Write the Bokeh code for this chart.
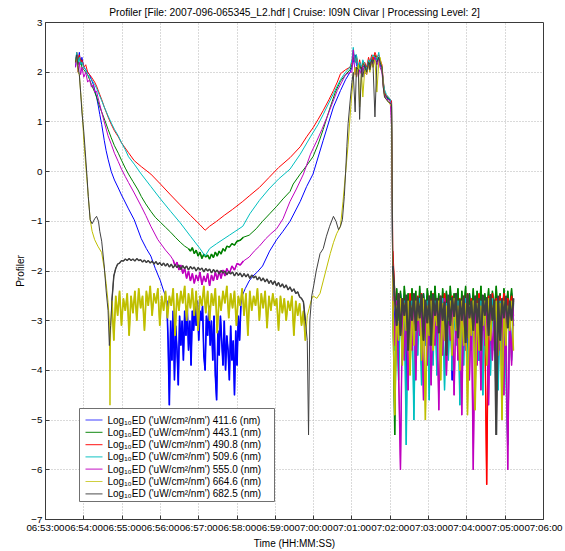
from bokeh.plotting import figure
from bokeh.models import Range1d, FixedTicker, BoxAnnotation, Label
from bokeh.embed import file_html
from bokeh.resources import INLINE

FONT = "Liberation Sans"

title_text = "Profiler [File: 2007-096-065345_L2.hdf | Cruise: I09N Clivar | Processing Level: 2]"
x_ticks = [0, 60, 120, 180, 240, 300, 360, 420, 480, 540, 600, 660, 720, 780]   # seconds after 06:53:00
x_tick_labels = ["06:53:00", "06:54:00", "06:55:00", "06:56:00", "06:57:00", "06:58:00", "06:59:00",
                 "07:00:00", "07:01:00", "07:02:00", "07:03:00", "07:04:00", "07:05:00", "07:06:00"]
y_ticks = [-7, -6, -5, -4, -3, -2, -1, 0, 1, 2, 3]

labels = ["Log\u2081\u2080ED ('uW/cm\u00b2/nm') 411.6 (nm)",
          "Log\u2081\u2080ED ('uW/cm\u00b2/nm') 443.1 (nm)",
          "Log\u2081\u2080ED ('uW/cm\u00b2/nm') 490.8 (nm)",
          "Log\u2081\u2080ED ('uW/cm\u00b2/nm') 509.6 (nm)",
          "Log\u2081\u2080ED ('uW/cm\u00b2/nm') 555.0 (nm)",
          "Log\u2081\u2080ED ('uW/cm\u00b2/nm') 664.6 (nm)",
          "Log\u2081\u2080ED ('uW/cm\u00b2/nm') 682.5 (nm)"]
colors = ["#0000ff", "#008000", "#ff0000", "#00bfbf", "#bf00bf", "#bfbf00", "#404040"]

# ---- shared sample times (s after 06:53:00) ----
t_band = [104, 107, 110, 113, 116, 119, 122, 125, 128, 131,
          134, 137, 140, 143, 146, 149, 152, 155, 158, 161,
          164, 167, 170, 173, 176, 179, 182, 185, 188, 191,
          194, 197, 200, 203, 206, 209, 212, 215, 218, 221,
          224, 227, 230, 233, 236, 239, 242, 245, 248, 251,
          254, 257, 260, 263, 266, 269, 272, 275, 278, 281,
          284, 287, 290, 293, 296, 299, 302, 305, 308, 311,
          314, 317, 320, 323, 326, 329, 332, 335, 338, 341,
          344, 347, 350, 353, 356, 359, 362, 365, 368, 371,
          374, 377, 380, 383, 386, 389, 392, 395, 398, 401,
          404, 407]
t_top = [480, 482, 485, 487, 490, 492, 495, 497, 500, 503, 506, 508, 511, 513, 516,
         519, 522, 524, 527, 529, 531, 534, 537, 540, 542]
t_tail = [544, 547, 550, 553, 556, 559, 562, 565, 568, 571,
          574, 577, 580, 583, 586, 589, 592, 595, 598, 601,
          604, 607, 610, 613, 616, 619, 622, 625, 628, 631,
          634, 637, 640, 643, 646, 649, 652, 655, 658, 661,
          664, 667, 670, 673, 676, 679, 682, 685, 688, 691,
          694, 697, 700, 703, 706, 709, 712, 715, 718, 721,
          724, 727, 730, 733]

# ---- 411.6 nm (blue) ----
t_blue_a = [47, 49, 51, 53, 55, 57, 60, 63, 66, 69, 72, 75, 78, 80, 83, 85, 88, 92, 95, 98,
            103, 108, 114, 119, 123, 130, 139, 150, 158, 165, 172, 180, 185, 188]
v_blue_a = [2.1, 2.35, 2.2, 2.4, 2.15, 2.3, 2.1, 2.05, 2.0, 1.95, 1.85, 1.75, 1.6, 1.5, 1.3, 1.15, 0.95, 0.63, 0.42, 0.25,
            0.0, -0.17, -0.33, -0.47, -0.57, -0.75, -0.97, -1.35, -1.55, -1.7, -1.95, -2.2, -2.4, -2.5]
t_blue_b = [190, 192, 194, 196, 198, 200, 202, 204, 206, 208,
            210, 212, 214, 216, 218, 220, 222, 224, 226, 228,
            230, 232, 234, 236, 238, 240, 242, 244, 246, 248,
            250, 252, 254, 256, 258, 260, 262, 264, 266, 268,
            270, 272, 274, 276, 278, 280, 282, 284, 286, 288,
            290, 292, 294, 296, 298, 300, 302, 304, 306]
v_blue_b = [-2.6, -3.4, -4.7, -3.0, -3.8, -2.8, -4.2, -3.1, -3.6, -4.3,
            -2.9, -3.5, -3.0, -3.8, -2.8, -3.3, -2.7, -3.6, -3.0, -3.9,
            -2.8, -3.2, -2.7, -3.1, -2.6, -3.4, -2.8, -3.0, -2.7, -3.7,
            -4.0, -2.9, -3.3, -2.7, -3.5, -3.0, -3.8, -2.9, -4.1, -4.6,
            -3.2, -3.7, -2.9, -3.4, -3.9, -3.0, -4.0, -3.3, -3.6, -4.2,
            -3.1, -3.8, -3.4, -4.5, -3.2, -3.9, -2.9, -3.4, -2.7]
t_blue_c = [308, 313, 319, 325, 331, 340, 351, 362, 372, 383, 399, 409, 419, 435, 451, 462, 470, 477]
v_blue_c = [-2.5, -2.35, -2.2, -2.1, -2.03, -1.9, -1.6, -1.37, -1.2, -1.0, -0.6, -0.3, -0.05, 0.63, 1.3, 1.63, 1.85, 2.0]
v_blue_top = [2.1, 2.2, 2.35, 2.15, 2.05, 2.2, 2.0, 2.1, 2.15, 2.05, 2.2, 2.1, 2.25, 2.15, 2.3,
              2.2, 2.3, 2.15, 2.05, 1.8, 1.55, 1.5, 1.45, 1.45, 1.4]
v_blue_tail = [-2.4, -3.1, -2.5, -3.6, -2.45, -3.0, -2.55, -4.4, -2.5, -3.2,
               -2.45, -2.9, -2.55, -3.4, -2.5, -3.9, -2.45, -3.0, -2.5, -3.5,
               -2.55, -2.9, -2.45, -3.7, -2.5, -3.1, -2.55, -3.3, -2.45, -2.85,
               -2.5, -4.2, -2.55, -3.0, -2.45, -3.4, -2.5, -2.9, -2.55, -3.6,
               -2.45, -3.1, -2.5, -2.85, -2.55, -3.8, -2.45, -3.2, -2.5, -3.0,
               -2.55, -3.5, -2.45, -3.0, -2.5, -4.0, -2.55, -2.9, -2.45, -3.3,
               -2.5, -2.85, -2.45, -3.1]

# ---- 443.1 nm (green) ----
t_green_a = [47, 49, 51, 53, 55, 57, 60, 63, 66, 69, 72, 77, 80, 85, 88, 93, 98, 103, 108, 114,
             119, 125, 130, 137, 145, 150, 157, 165, 172, 180, 188, 196, 204, 211, 218]
v_green_a = [2.2, 2.35, 2.15, 2.3, 2.25, 2.1, 2.05, 2.0, 1.95, 1.85, 1.75, 1.6, 1.5, 1.3, 1.2, 1.03, 0.85, 0.68, 0.52, 0.37,
             0.23, 0.07, -0.05, -0.2, -0.37, -0.5, -0.65, -0.8, -0.92, -1.02, -1.12, -1.22, -1.33, -1.42, -1.5]
t_green_b = [224, 227, 230, 233, 236, 239, 242, 245, 248, 251, 254, 257, 260, 263, 266, 269, 272, 275, 278, 281,
             284, 288, 292, 296, 300, 305, 310]
v_green_b = [-1.55, -1.6, -1.53, -1.65, -1.58, -1.7, -1.62, -1.75, -1.66, -1.72, -1.68, -1.76, -1.66, -1.73, -1.62,
             -1.7, -1.6, -1.66, -1.55, -1.6, -1.5, -1.52, -1.45, -1.48, -1.4, -1.38, -1.32]
t_green_c = [319, 330, 340, 351, 362, 372, 383, 388, 399, 409, 419, 427, 435, 446, 454, 462, 470, 477]
v_green_c = [-1.28, -1.15, -1.0, -0.85, -0.7, -0.55, -0.4, -0.25, -0.05, 0.12, 0.3, 0.55, 0.85, 1.3, 1.6, 1.82, 1.95, 2.05]
v_green_top = [2.15, 2.3, 2.2, 2.35, 2.0, 2.15, 2.05, 2.2, 2.1, 2.0, 2.25, 2.15, 2.3, 2.2, 2.35,
               2.25, 2.3, 2.2, 2.1, 1.75, 1.6, 1.5, 1.48, 1.42, 1.4]
v_green_tail = [-2.5, -5.3, -2.35, -3.0, -2.4, -3.2, -2.3, -2.85, -2.45, -3.1,
                -2.35, -2.8, -2.4, -3.3, -2.3, -2.9, -2.45, -3.15, -2.35, -2.75,
                -2.4, -3.0, -2.3, -2.85, -2.45, -3.25, -2.35, -2.8, -2.4, -3.05,
                -2.3, -2.9, -2.45, -2.75, -2.35, -3.2, -2.4, -2.85, -2.3, -3.35,
                -2.45, -2.9, -2.35, -3.1, -2.4, -2.8, -2.3, -3.0, -2.45, -2.85,
                -2.35, -3.2, -2.4, -2.8, -2.3, -2.95, -2.45, -3.15, -2.35, -2.9,
                -2.4, -2.8, -2.35, -3.0]

# ---- 490.8 nm (red) ----
t_red_a = [47, 49, 51, 53, 55, 57, 60, 63, 66, 69, 72, 77, 80, 85, 88, 92, 98, 103, 108, 114,
           119, 130, 139, 150, 165, 180, 196, 211, 227, 242, 250, 257, 268, 280, 293, 309, 320, 335, 350, 365,
           383, 399, 409, 419, 427, 435, 444, 451, 457, 462, 470, 477]
v_red_a = [2.2, 2.4, 2.25, 2.35, 2.2, 2.25, 2.1, 2.15, 2.0, 1.95, 1.9, 1.8, 1.72, 1.55, 1.45, 1.3, 1.1, 0.95, 0.82, 0.7,
           0.58, 0.38, 0.22, 0.1, -0.05, -0.25, -0.47, -0.67, -0.88, -1.07, -1.18, -1.1, -1.0, -0.88, -0.76, -0.6, -0.48, -0.32, -0.12, 0.08,
           0.28, 0.5, 0.7, 0.88, 1.05, 1.23, 1.45, 1.63, 1.8, 1.97, 2.05, 2.1]
v_red_top = [2.2, 2.4, 2.25, 2.3, 2.1, 2.25, 2.05, 2.15, 2.2, 2.1, 2.3, 2.2, 2.35, 2.25, 2.4,
             2.3, 2.35, 2.25, 2.15, 1.85, 1.6, 1.52, 1.5, 1.45, 1.42]
v_red_tail = [-1.6, -2.5, -3.0, -2.45, -3.1, -2.55, -2.85, -2.5, -3.2, -2.45,
              -2.95, -2.55, -2.8, -2.5, -3.05, -2.45, -2.9, -2.6, -3.15, -2.5,
              -2.85, -2.45, -3.0, -2.55, -2.8, -2.5, -3.1, -2.45, -2.9, -2.55,
              -3.25, -2.5, -2.85, -2.45, -3.0, -2.55, -2.8, -2.5, -3.05, -2.45,
              -2.9, -2.55, -3.1, -2.5, -2.85, -2.45, -3.0, -2.55, -2.8, -6.3,
              -2.5, -2.95, -2.45, -3.1, -2.55, -2.85, -2.5, -3.0, -2.45, -3.05,
              -2.55, -2.8, -2.5, -2.9]

# ---- 509.6 nm (cyan) ----
t_cyan_a = [47, 49, 51, 53, 55, 57, 60, 63, 66, 69, 72, 77, 80, 85, 88, 92, 98, 103, 108, 114,
            119, 125, 130, 139, 150, 165, 180, 196, 211, 227, 242, 250, 257, 268, 288, 309, 320, 335, 350, 365,
            383, 399, 415, 427, 435, 451, 462, 470, 477]
v_cyan_a = [2.25, 2.4, 2.2, 2.3, 2.15, 2.2, 2.1, 2.05, 1.95, 1.9, 1.85, 1.75, 1.68, 1.52, 1.43, 1.3, 1.12, 0.98, 0.85, 0.72,
            0.58, 0.44, 0.3, 0.15, -0.05, -0.3, -0.55, -0.8, -1.03, -1.3, -1.55, -1.7, -1.55, -1.45, -1.28, -1.1, -0.85, -0.58, -0.35, -0.15,
            0.05, 0.35, 0.7, 0.95, 1.15, 1.57, 1.85, 2.0, 2.1]
v_cyan_top = [2.25, 2.5, 2.2, 2.35, 2.05, 2.2, 2.1, 2.25, 2.15, 2.05, 2.25, 2.2, 2.3, 2.35, 2.3,
              2.25, 2.4, 2.2, 2.1, 1.8, 1.65, 1.55, 1.5, 1.45, 1.3]
v_cyan_tail = [-2.55, -3.6, -2.6, -4.2, -2.65, -3.8, -2.6, -5.5, -2.7, -4.0,
               -2.6, -5.0, -2.65, -3.7, -2.55, -4.3, -2.7, -3.5, -2.6, -4.6,
               -2.65, -3.9, -2.6, -4.1, -2.7, -3.6, -2.55, -4.4, -2.65, -3.8,
               -2.6, -4.0, -2.7, -3.5, -2.6, -4.7, -2.65, -3.9, -2.55, -4.2,
               -2.7, -3.6, -2.6, -4.3, -2.65, -3.8, -2.6, -4.5, -2.7, -3.7,
               -2.6, -4.1, -2.55, -3.6, -2.65, -4.4, -2.6, -3.9, -2.7, -4.0,
               -5.5, -2.6, -3.8, -2.65]

# ---- 555.0 nm (magenta) ----
t_mag_a = [47, 49, 51, 53, 55, 57, 60, 63, 66, 69, 72, 75, 77, 80, 82, 85, 92, 98, 103, 108,
           114, 119, 125, 130, 139, 150, 157, 165, 176, 188, 196]
v_mag_a = [2.1, 2.3, 2.0, 2.2, 1.95, 2.1, 1.9, 2.0, 1.8, 1.85, 1.7, 1.75, 1.6, 1.62, 1.5, 1.35, 1.0, 0.72, 0.55, 0.37,
           0.2, 0.05, -0.1, -0.22, -0.43, -0.7, -0.88, -1.1, -1.37, -1.58, -1.7]
t_mag_b = [200, 203, 206, 209, 212, 215, 218, 221, 224, 227, 230, 233, 236, 239, 242, 245, 248, 251, 254, 257,
           260, 263, 266, 269, 272, 275, 278, 281, 284, 288, 292, 296, 300, 305, 310]
v_mag_b = [-1.78, -1.9, -1.82, -1.98, -1.88, -2.05, -1.95, -2.15, -2.0, -2.2, -2.05, -2.25, -2.08, -2.2, -2.02,
           -2.28, -2.1, -2.22, -2.05, -2.3, -2.08, -2.2, -2.02, -2.18, -2.0, -2.15, -1.98, -2.1, -1.95,
           -2.05, -1.9, -1.98, -1.85, -1.88, -1.8]
t_mag_c = [319, 327, 335, 345, 353, 362, 372, 383, 393, 404, 415, 425, 433, 441, 450, 457, 464, 470, 477]
v_mag_c = [-1.72, -1.6, -1.5, -1.35, -1.25, -1.15, -0.95, -0.6, -0.35, -0.05, 0.35, 0.62, 0.85, 1.1, 1.4, 1.63, 1.8, 1.95, 2.0]
v_mag_top = [2.0, 2.45, 1.95, 2.1, 1.9, 2.05, 1.95, 2.1, 2.0, 1.95, 2.15, 2.05, 2.25, 2.1, 2.3,
             2.15, 2.25, 2.1, 2.0, 1.7, 1.55, 1.45, 1.45, 1.4, 0.9]
v_mag_tail = [-2.5, -3.5, -2.6, -4.0, -6.0, -2.7, -3.8, -2.55, -4.4, -2.65,
              -3.6, -2.6, -4.2, -2.7, -3.3, -2.55, -4.6, -2.65, -3.9, -2.6,
              -4.3, -2.7, -3.5, -2.6, -4.8, -2.65, -3.7, -2.55, -4.1, -2.7,
              -3.4, -2.6, -4.5, -2.65, -3.8, -2.7, -4.9, -2.6, -3.6, -2.55,
              -4.2, -2.65, -6.0, -2.7, -3.9, -2.6, -4.4, -2.65, -3.5, -2.6,
              -4.7, -2.55, -3.8, -2.7, -4.1, -2.6, -3.6, -2.65, -4.5, -2.6,
              -6.0, -2.7, -3.9, -2.6]

# ---- 664.6 nm (yellow) ----
t_yel_a = [47, 49, 51, 53, 55, 57, 60, 62, 65, 67, 70, 73, 77, 82, 88, 92, 95, 98, 100, 101, 102]
v_yel_a = [2.2, 2.3, 2.0, 1.95, 1.6, 1.3, 0.63, 0.3, -0.17, -0.5, -0.97, -1.2, -1.37, -1.5, -1.63, -1.95, -2.25, -2.63, -3.0, -4.7, -3.2]
v_yel_b = [-2.6, -3.4, -2.5, -2.9, -2.4, -3.1, -2.55, -2.8, -2.45, -3.3,
           -2.5, -2.85, -2.4, -3.0, -2.35, -2.75, -2.5, -3.2, -2.4, -2.7,
           -2.3, -2.9, -2.45, -2.65, -2.35, -3.1, -2.5, -2.8, -2.4, -2.95,
           -2.5, -2.7, -2.35, -3.3, -2.45, -2.8, -2.4, -2.65, -2.3, -3.0,
           -2.45, -2.75, -2.35, -2.9, -2.4, -3.2, -2.5, -2.7, -2.3, -2.85,
           -2.4, -3.0, -2.45, -2.7, -2.35, -3.25, -2.5, -2.8, -2.4, -2.65,
           -2.3, -2.95, -2.45, -2.75, -2.4, -3.1, -2.5, -2.7, -2.35, -2.9,
           -2.45, -3.3, -2.4, -2.8, -2.5, -2.7, -2.35, -3.0, -2.45, -2.75,
           -2.4, -3.15, -2.5, -2.8, -2.45, -2.7, -2.55, -3.2, -2.5, -2.85,
           -2.55, -3.0, -2.6, -2.8, -2.5, -3.3, -2.6, -2.9, -2.65, -3.1,
           -2.8, -3.4]
t_yel_c = [410, 413, 416, 419, 425, 430, 435, 441, 446, 451, 456, 462, 466, 470, 474, 477]
v_yel_c = [-2.9, -2.75, -2.6, -2.5, -2.55, -2.45, -2.2, -1.9, -1.65, -1.43, -1.25, -1.1, -0.6, -0.03, 0.55, 1.1]
v_yel_top = [1.6, 1.85, 2.1, 1.9, 2.15, 1.3, 2.0, 1.5, 2.05, 1.95, 2.15, 2.0, 2.2, 2.1, 2.25,
             1.6, 2.2, 2.3, 2.1, 1.75, 1.5, 1.45, 1.4, 1.35, 1.3]
v_yel_tail = [-2.6, -4.9, -2.7, -3.4, -2.55, -3.9, -2.65, -3.2, -2.6, -4.1,
              -2.7, -3.5, -2.6, -3.0, -2.65, -3.8, -2.55, -5.0, -2.7, -3.3,
              -2.6, -3.6, -2.75, -3.1, -2.6, -4.2, -2.65, -3.4, -2.7, -3.0,
              -2.6, -3.7, -2.55, -3.2, -2.7, -4.0, -2.6, -3.5, -2.65, -4.9,
              -2.7, -3.3, -2.6, -4.8, -2.65, -3.6, -2.7, -3.1, -2.6, -3.9,
              -2.55, -3.4, -2.7, -3.0, -2.6, -3.7, -2.65, -5.0, -2.6, -3.5,
              -2.7, -3.2, -2.6, -3.6]

# ---- 682.5 nm (dark grey) ----
t_gry_a = [47, 49, 51, 53, 55, 57, 60, 62, 65, 67, 70, 73, 77, 80, 83, 85, 88, 92, 95, 98, 100, 102]
v_gry_a = [2.2, 2.35, 2.1, 1.95, 1.6, 1.2, 0.8, 0.45, -0.1, -0.5, -0.97, -1.05, -0.95, -0.9, -1.0, -1.2, -1.4, -1.9, -2.4, -2.8, -3.5, -3.1]
v_gry_b = [-2.6, -2.1, -1.95, -1.86, -1.84, -1.79, -1.8, -1.76, -1.79, -1.75,
           -1.79, -1.76, -1.8, -1.75, -1.79, -1.77, -1.82, -1.78, -1.83, -1.79,
           -1.84, -1.8, -1.86, -1.81, -1.87, -1.83, -1.89, -1.84, -1.9, -1.85,
           -1.92, -1.86, -1.94, -1.87, -1.93, -1.88, -1.97, -1.89, -1.95, -1.9,
           -1.98, -1.91, -1.96, -1.92, -2.0, -1.93, -1.98, -1.94, -2.02, -1.95,
           -2.0, -1.96, -2.04, -1.97, -2.02, -1.98, -2.06, -1.99, -2.04, -2.0,
           -2.08, -2.01, -2.06, -2.02, -2.1, -2.03, -2.09, -2.04, -2.12, -2.05,
           -2.12, -2.06, -2.15, -2.08, -2.14, -2.1, -2.18, -2.12, -2.2, -2.14,
           -2.22, -2.16, -2.25, -2.19, -2.27, -2.2, -2.3, -2.23, -2.32, -2.26,
           -2.34, -2.28, -2.38, -2.32, -2.41, -2.36, -2.45, -2.42, -2.52, -2.55,
           -2.62, -3.0]
t_gry_c = [410, 412, 414, 417, 420, 424, 430, 435, 440, 445, 451, 455, 459, 462, 465, 468, 470, 472, 474, 477]
v_gry_c = [-3.4, -5.3, -3.0, -2.5, -2.3, -2.0, -1.65, -1.55, -1.3, -1.1, -0.9, -1.0, -1.17, -1.1, -0.97, -0.5, -0.03, 0.5, 0.97, 1.4]
v_gry_top = [1.8, 2.0, 1.2, 2.1, 2.05, 1.05, 2.1, 1.9, 2.15, 2.0, 2.2, 2.05, 2.25, 2.15, 1.1,
             2.2, 2.3, 2.2, 2.1, 1.7, 1.5, 1.45, 1.4, 1.38, 1.35]
v_gry_tail = [-1.9, -2.5, -3.1, -2.45, -3.3, -2.55, -2.9, -2.48, -3.6, -2.6,
              -3.0, -2.45, -3.2, -2.52, -2.95, -2.47, -3.4, -2.58, -3.05, -2.5,
              -3.5, -2.46, -2.9, -2.55, -3.25, -2.5, -3.0, -2.62, -3.7, -2.48,
              -3.1, -2.53, -2.92, -2.45, -3.35, -2.57, -3.0, -2.5, -3.45, -2.46,
              -2.95, -2.6, -3.2, -2.5, -3.05, -2.55, -3.6, -2.48, -2.9, -2.53,
              -3.3, -2.47, -3.0, -2.58, -5.3, -2.5, -3.4, -2.55, -2.95, -2.5,
              -3.15, -2.6, -3.0, -2.55]

# (full series, noisy stretches drawn a little heavier, as in the densely sampled original)
series = [
    (t_blue_a + t_blue_b + t_blue_c + t_top + t_tail, v_blue_a + v_blue_b + v_blue_c + v_blue_top + v_blue_tail,
     [(t_blue_b, v_blue_b, 1.6), (t_tail, v_blue_tail, 1.4)]),
    (t_green_a + t_green_b + t_green_c + t_top + t_tail, v_green_a + v_green_b + v_green_c + v_green_top + v_green_tail,
     [(t_green_b, v_green_b, 1.5), (t_tail, v_green_tail, 1.4)]),
    (t_red_a + t_top + t_tail, v_red_a + v_red_top + v_red_tail,
     [(t_tail, v_red_tail, 1.4)]),
    (t_cyan_a + t_top + t_tail, v_cyan_a + v_cyan_top + v_cyan_tail,
     [(t_tail, v_cyan_tail, 1.4)]),
    (t_mag_a + t_mag_b + t_mag_c + t_top + t_tail, v_mag_a + v_mag_b + v_mag_c + v_mag_top + v_mag_tail,
     [(t_mag_b, v_mag_b, 1.5), (t_tail, v_mag_tail, 1.4)]),
    (t_yel_a + t_band + t_yel_c + t_top + t_tail, v_yel_a + v_yel_b + v_yel_c + v_yel_top + v_yel_tail,
     [(t_band, v_yel_b, 1.7), (t_tail, v_yel_tail, 1.5)]),
    (t_gry_a + t_band + t_gry_c + t_top + t_tail, v_gry_a + v_gry_b + v_gry_c + v_gry_top + v_gry_tail,
     [(t_band, v_gry_b, 1.4), (t_tail, v_gry_tail, 2.0)]),
]

AX = "#3a3a3a"
p = figure(width=565, height=551, x_range=Range1d(0, 780), y_range=Range1d(-7, 3),
           output_backend="svg", toolbar_location=None,
           min_border_left=45, min_border_right=22, min_border_top=22, min_border_bottom=29)
p.title.text = title_text
p.title.align = "center"
p.title.text_font = FONT
p.title.text_font_size = "10.25px"
p.title.text_font_style = "normal"
p.title.text_color = "black"
p.title.standoff = 9
p.title.offset = 0

for (t, v, heavy), c in zip(series, colors):
    p.line(t, v, line_color=c, line_width=1)
    for ht, hv, w in heavy:
        p.line(ht, hv, line_color=c, line_width=w)

p.xaxis.ticker = FixedTicker(ticks=x_ticks)
p.xaxis.major_label_overrides = {t: lab for t, lab in zip(x_ticks, x_tick_labels)}
p.yaxis.ticker = FixedTicker(ticks=y_ticks)
p.xaxis.axis_label = "Time (HH:MM:SS)"
p.yaxis.axis_label = "Profiler"
for ax in (p.xaxis[0], p.yaxis[0]):
    ax.axis_label_text_font = FONT
    ax.axis_label_text_font_size = "10px"
    ax.axis_label_text_font_style = "normal"
    ax.axis_label_text_color = "black"
    ax.major_label_text_font = FONT
    ax.major_label_text_font_size = "9.8px"
    ax.major_label_text_color = "black"
    ax.major_tick_in = 4
    ax.major_tick_out = 0
    ax.minor_tick_line_color = None
    ax.axis_line_color = AX
    ax.major_tick_line_color = AX
    ax.major_label_standoff = 2
p.xaxis[0].axis_label_standoff = 2
p.yaxis[0].axis_label_standoff = 2
p.yaxis[0].major_label_standoff = 3

p.xgrid.ticker = FixedTicker(ticks=x_ticks)
p.ygrid.ticker = FixedTicker(ticks=y_ticks)
for g in (p.xgrid[0], p.ygrid[0]):
    g.grid_line_color = "#b4b4b4"
    g.grid_line_dash = "1 2"
    g.grid_line_width = 1
p.outline_line_color = AX

# ---- legend box (frame-relative screen pixels, y up) ----
S = dict(left_units="screen", right_units="screen", top_units="screen", bottom_units="screen")
p.add_layout(BoxAnnotation(left=34, right=229, bottom=18, top=111, fill_color="white", fill_alpha=1,
                           line_color="#707070", line_width=1, line_alpha=1, **S))
row_y = [99.5, 87.2, 74.9, 62.6, 50.3, 38.0, 25.7]
for lab, c, yy in zip(labels, colors, row_y):
    p.add_layout(BoxAnnotation(left=40, right=57, bottom=yy - 0.6, top=yy + 0.6, fill_color=c, fill_alpha=0.75,
                               line_color=None, **S))
    p.add_layout(Label(x=62, y=yy, x_units="screen", y_units="screen", text=lab, text_font=FONT,
                       text_font_size="10px", text_color="black", text_baseline="middle", text_align="left"))

open("out.html", "w").write(file_html(p, INLINE))
